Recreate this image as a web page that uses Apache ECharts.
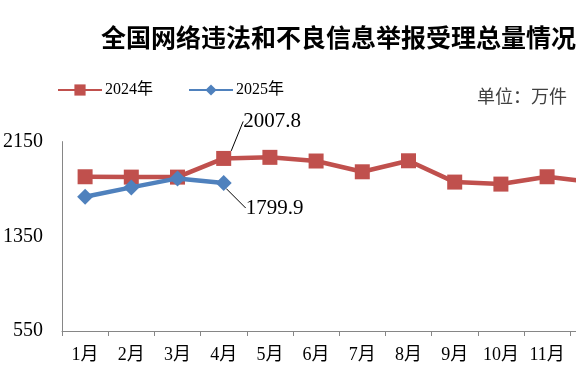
<!DOCTYPE html>
<html>
<head>
<meta charset="utf-8">
<script src="https://cdn.jsdelivr.net/npm/echarts@6/dist/echarts.min.js"></script>
<style>html,body{margin:0;padding:0;background:#fff;overflow:hidden;width:576px;height:384px}#c{width:620px;height:384px}</style>
</head>
<body>
<div id="c"></div>
<script>
const titleText = '全国网络违法和不良信息举报受理总量情况';
const unitText = '单位：万件';
const months = ['1月','2月','3月','4月','5月','6月','7月','8月','9月','10月','11月','12月'];
const series2024 = [1853, 1850, 1850, 2007.8, 2017, 1986, 1895, 1988, 1808, 1791, 1853, 1807];
const series2025 = [1684, 1763, 1839, 1799.9];
const yTicks = [550, 1350, 2150];
const labelIndex = 3;

const serif = '"Liberation Serif", "Noto Sans CJK SC", serif';

function withLabel(arr) {
  return arr.map((v, i) => i === labelIndex ? {
    value: v,
    label: {show: true},
    labelLine: {show: true, lineStyle: {color: '#000', width: 1}}
  } : v);
}

const chart = echarts.init(document.getElementById('c'), null, {renderer: 'canvas'});
chart.setOption({
  animation: false,
  backgroundColor: '#fff',
  title: [
    {text: titleText, left: 101, top: 25, padding: 0,
     textStyle: {fontFamily: '"Noto Sans CJK SC", sans-serif', fontSize: 25, fontWeight: 'bold', color: '#000'}},
    {text: unitText, left: 477, top: 87, padding: 0,
     textStyle: {fontFamily: '"Noto Sans CJK SC", sans-serif', fontSize: 18, fontWeight: 'normal', color: '#404040'}}
  ],
  legend: {
    left: 57, top: 82, padding: 0, itemGap: 35, itemWidth: 44, itemHeight: 14,
    textStyle: {fontFamily: serif, fontSize: 16, color: '#000', padding: [0,0,0,-2]},
    data: ['2024年', '2025年']
  },
  grid: {left: 62, right: 3.6, top: 141.6, bottom: 53, containLabel: false},
  xAxis: {
    type: 'category', data: months, boundaryGap: true,
    axisLine: {lineStyle: {color: '#868686', width: 1}},
    axisTick: {show: true, length: 5, lineStyle: {color: '#868686'}},
    axisLabel: {fontFamily: serif, fontSize: 18, color: '#000', margin: 15, interval: 0}
  },
  yAxis: {
    type: 'value', min: yTicks[0], max: yTicks[2], interval: yTicks[1] - yTicks[0],
    splitLine: {show: false},
    axisLine: {show: true, lineStyle: {color: '#868686', width: 1}},
    axisTick: {show: false},
    axisLabel: {fontFamily: serif, fontSize: 20, color: '#000', margin: 19, formatter: v => String(v)}
  },
  series: [
    {
      name: '2024年', type: 'line', data: withLabel(series2024),
      symbol: 'rect', symbolSize: 15, clip: false,
      lineStyle: {color: '#C0504D', width: 4.5},
      itemStyle: {color: '#C0504D'},
      label: {show: false, position: 'right', fontFamily: serif, fontSize: 21, color: '#000'},
      labelLayout: p => p.dataIndex === labelIndex ? {dx: 7, dy: -37} : {},
      z: 2
    },
    {
      name: '2025年', type: 'line', data: withLabel(series2025),
      symbol: 'diamond', symbolSize: 16, clip: false,
      lineStyle: {color: '#4F81BD', width: 4.5},
      itemStyle: {color: '#4F81BD'},
      label: {show: false, position: 'right', fontFamily: serif, fontSize: 21, color: '#000'},
      labelLayout: p => p.dataIndex === labelIndex ? {dx: 9, dy: 25} : {},
      z: 3
    }
  ]
});
</script>
</body>
</html>
